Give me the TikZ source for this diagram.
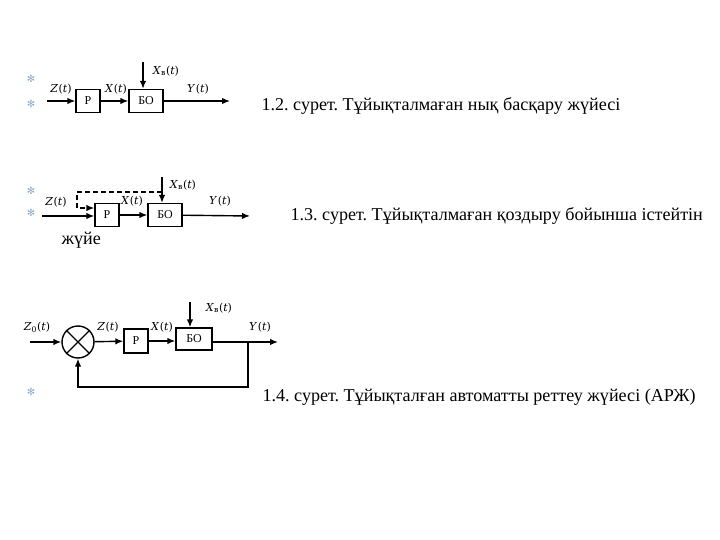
\documentclass[tikz,border=0pt]{standalone}
\usepackage{fontspec}
\setmainfont{Liberation Serif}
\newfontfamily\labelfont{DejaVu Serif}
\newfontfamily\starfont{DejaVu Sans}
\usetikzlibrary{arrows.meta}
\definecolor{starblue}{RGB}{140,170,205}
\newcommand{\sigfun}[2]{\textit{#1}\textsubscript{#2}(\textit{t})}
\frenchspacing
\tikzset{
  block/.style={draw, line width=1.4pt, minimum height=23pt, inner sep=0pt,
    font=\fontsize{12}{14}\selectfont},
  sig/.style={line width=1.4pt, -{Latex[length=8pt,width=6.5pt]}},
  wire/.style={line width=1.4pt},
  lbl/.style={font=\labelfont\fontsize{11}{13}\selectfont},
  caption/.style={anchor=west, font=\fontsize{18.1}{22}\selectfont},
  star/.style={text=starblue, font=\starfont\fontsize{10}{11}\selectfont},
}
\begin{document}
\begin{tikzpicture}[x=1pt, y=-1pt]
        \useasboundingbox[fill=white] (0,0) rectangle (720,540);

        % Fig. 1.2: open loop, rigid control
        \node[star] (s1) at (31,79) {✻};
        \node[star] (s2) at (31,104) {✻};
        \node[block, minimum width=24pt] (p1) at (88,101) {Р};
        \node[block, minimum width=34pt] (bo1) at (146,101) {БО};
        \coordinate (z1) at (47,101);
        \coordinate (y1) at (230,101);
        \coordinate (xv1) at (143,62);
        \draw[sig] (z1) -- (p1);
        \draw[sig] (p1) -- (bo1);
        \draw[sig] (bo1) -- (y1);
        \draw[sig] (xv1) -- (xv1 |- bo1.north);
        \node[lbl] (lz1) at (61,89) {\sigfun{Z}{}};
        \node[lbl] (lx1) at (116,89) {\sigfun{X}{}};
        \node[lbl] (lxv1) at (166,71) {\sigfun{X}{в}};
        \node[lbl] (ly1) at (198,89) {\sigfun{Y}{}};
        \node[caption] (c1) at (258,106) {1.2. сурет. Тұйықталмаған нық басқару жүйесі};

        % Fig. 1.3: open loop, by disturbance
        \node[star] (s3) at (31,191) {✻};
        \node[star] (s4) at (31,213) {✻};
        \node[block, minimum width=24pt] (p2) at (107,215) {Р};
        \node[block, minimum width=34pt] (bo2) at (165,215) {БО};
        \coordinate (z2) at (42,216);
        \coordinate (y2) at (250,216);
        \coordinate (xv2) at (162,177);
        \coordinate (tap2) at (162,192);
        \draw[sig] (z2) -- (z2 -| p2.west);
        \draw[sig] (p2) -- (bo2);
        \draw[sig] (bo2) -- (y2);
        \draw[sig] (xv2) -- (xv2 |- bo2.north);
        \draw[sig, dash pattern=on 5pt off 3pt] (tap2) -- (77,192) |- ([yshift=7pt]p2.west);
        \node[lbl] (lz2) at (56,202) {\sigfun{Z}{}};
        \node[lbl] (lx2) at (132,201) {\sigfun{X}{}};
        \node[lbl] (lxv2) at (183,185) {\sigfun{X}{в}};
        \node[lbl] (ly2) at (220,201) {\sigfun{Y}{}};
        \node[caption] (c2) at (287,216) {1.3. сурет. Тұйықталмаған қоздыру бойынша істейтін};
        \node[caption] (c2b) at (58,240) {жүйе};

        % Fig. 1.4: closed loop
        \node[star] (s5) at (31,392) {✻};
        \node[draw, circle, line width=1.4pt, minimum size=32pt, inner sep=0pt] (sum) at (78,342) {};
        \draw[wire] (sum.north west) -- (sum.south east);
        \draw[wire] (sum.north east) -- (sum.south west);
        \node[block, minimum width=24pt, minimum height=24pt] (p3) at (136,341) {Р};
        \node[block, minimum width=36pt, minimum height=22pt] (bo3) at (194,339) {БО};
        \coordinate (z3) at (30,342);
        \coordinate (y3) at (278,342);
        \coordinate (tap3) at (248,342);
        \coordinate (xv3) at (190,302);
        \draw[sig] (z3) -- (sum);
        \draw[sig] (sum) -- (p3);
        \draw[sig] (p3) -- (p3 -| bo3.west);
        \draw[sig] (bo3.east |- y3) -- (y3);
        \draw[sig] (xv3) -- (xv3 |- bo3.north);
        \draw[sig] (tap3) -- (248,387) -| (sum.south);
        \node[lbl] (lz3) at (37,327) {\sigfun{Z}{0}};
        \node[lbl] (lx3a) at (108,327) {\sigfun{Z}{}};
        \node[lbl] (lx3) at (162,327) {\sigfun{X}{}};
        \node[lbl] (lxv3) at (219,308) {\sigfun{X}{в}};
        \node[lbl] (ly3) at (260,327) {\sigfun{Y}{}};
        \node[caption] (c3) at (259,397) {1.4. сурет. Тұйықталған автоматты реттеу жүйесі (АРЖ)};
\end{tikzpicture}
\end{document}
